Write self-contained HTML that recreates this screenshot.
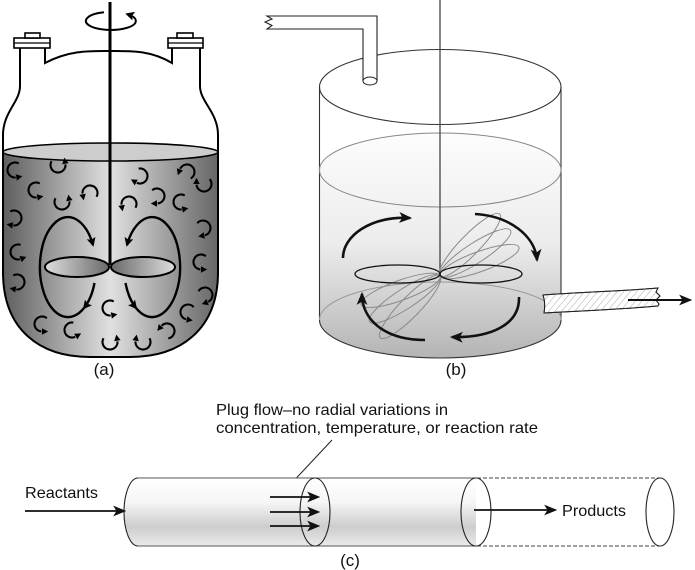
<!DOCTYPE html>
<html><head><meta charset="utf-8">
<style>
html,body{margin:0;padding:0;background:#fff;}
svg{display:block;}
text{font-family:"Liberation Sans",Arial,sans-serif;fill:#111;}
</style></head>
<body>
<svg width="695" height="570" viewBox="0 0 695 570" xmlns="http://www.w3.org/2000/svg">
<defs>
  <linearGradient id="liq" x1="3" y1="0" x2="218" y2="0" gradientUnits="userSpaceOnUse">
    <stop offset="0" stop-color="#5e5e5e"/>
    <stop offset="0.5" stop-color="#e0e0e0"/>
    <stop offset="1" stop-color="#666"/>
  </linearGradient>
  <linearGradient id="bl" x1="45" y1="0" x2="109" y2="0" gradientUnits="userSpaceOnUse">
    <stop offset="0" stop-color="#dedede"/>
    <stop offset="1" stop-color="#6a6a6a"/>
  </linearGradient>
  <linearGradient id="br" x1="111" y1="0" x2="175" y2="0" gradientUnits="userSpaceOnUse">
    <stop offset="0" stop-color="#6a6a6a"/>
    <stop offset="1" stop-color="#dedede"/>
  </linearGradient>
  <linearGradient id="cyl" x1="0" y1="130" x2="0" y2="358" gradientUnits="userSpaceOnUse">
    <stop offset="0" stop-color="#fdfdfd"/>
    <stop offset="0.5" stop-color="#ececec"/>
    <stop offset="1" stop-color="#b4b4b4"/>
  </linearGradient>
  <linearGradient id="tube" x1="0" y1="478" x2="0" y2="546" gradientUnits="userSpaceOnUse">
    <stop offset="0" stop-color="#fff"/>
    <stop offset="0.35" stop-color="#f6f6f6"/>
    <stop offset="0.72" stop-color="#cdcdcd"/>
    <stop offset="1" stop-color="#eaeaea"/>
  </linearGradient>
  <pattern id="hatch" width="5" height="5" patternUnits="userSpaceOnUse" patternTransform="rotate(40)">
    <line x1="0" y1="0" x2="0" y2="5" stroke="#aaa" stroke-width="1"/>
  </pattern>
  <marker id="ma" viewBox="0 0 10 10" refX="8" refY="5" markerWidth="9" markerHeight="9" markerUnits="userSpaceOnUse" orient="auto">
    <path d="M0,0 L10,5 L0,10 L2,5 z" fill="#000"/>
  </marker>
  <marker id="mb" viewBox="0 0 12 10" refX="10" refY="5" markerWidth="13" markerHeight="11" markerUnits="userSpaceOnUse" orient="auto">
    <path d="M0,0 L12,5 L0,10 L3,5 z" fill="#111"/>
  </marker>
  <g id="ca">
    <path d="M 3.75 -6.5 A 7.5 7.5 0 1 0 0.65 7.47" fill="none" stroke="#000" stroke-width="2.1"/>
    <polygon points="7.4,6.3 1.85,10.6 0.75,4.2" fill="#000"/>
  </g>
</defs>

<!-- ============ (a) ============ -->
<path d="M3 152 L3 272 C3 330 40 357 90 357 L130 357 C180 357 218 330 218 272 L218 152 Z" fill="url(#liq)" stroke="#000" stroke-width="2"/>
<ellipse cx="110.5" cy="152" rx="107.5" ry="9" fill="#cdcdcd" stroke="#000" stroke-width="1.6"/>
<path d="M3 275 L3 135 C3 112 20 102 20 86 L20 48" fill="none" stroke="#000" stroke-width="2"/>
<path d="M218 275 L218 135 C218 112 200 102 200 86 L200 48" fill="none" stroke="#000" stroke-width="2"/>
<path d="M45 48 L45 63 C70 50 90 51 110 51 C130 51 150 50 172 63 L172 48" fill="none" stroke="#000" stroke-width="2"/>
<rect x="14" y="38" width="36" height="10" fill="#fff" stroke="#000" stroke-width="1.6"/>
<line x1="14" y1="43" x2="50" y2="43" stroke="#000" stroke-width="1.2"/>
<rect x="25" y="33" width="15" height="5" fill="#fff" stroke="#000" stroke-width="1.6"/>
<rect x="168" y="38" width="35" height="10" fill="#fff" stroke="#000" stroke-width="1.6"/>
<line x1="168" y1="43" x2="203" y2="43" stroke="#000" stroke-width="1.2"/>
<rect x="177" y="33" width="16" height="5" fill="#fff" stroke="#000" stroke-width="1.6"/>
<path d="M104 12.3 A25 9 0 1 0 127 14.1" fill="none" stroke="#000" stroke-width="2" marker-end="url(#ma)"/>
<line x1="110" y1="2" x2="110" y2="265" stroke="#000" stroke-width="3"/>
<path d="M94.5 283 A28 50 0 0 1 84 308" fill="none" stroke="#000" stroke-width="2.4" marker-end="url(#ma)"/>
<path d="M84 308 A28 50 0 1 1 93 245" fill="none" stroke="#000" stroke-width="2.4" marker-end="url(#ma)"/>
<path d="M125.5 283 A28 50 0 0 0 136 308" fill="none" stroke="#000" stroke-width="2.4" marker-end="url(#ma)"/>
<path d="M136 308 A28 50 0 1 0 127 245" fill="none" stroke="#000" stroke-width="2.4" marker-end="url(#ma)"/>
<ellipse cx="77" cy="267" rx="32" ry="10" fill="url(#bl)" stroke="#000" stroke-width="2"/>
<ellipse cx="143" cy="267" rx="32" ry="10" fill="url(#br)" stroke="#000" stroke-width="2"/>
<!-- small curly arrows -->
<use href="#ca" transform="translate(15,170) rotate(0)"/>
<use href="#ca" transform="translate(58,165) rotate(-90)"/>
<use href="#ca" transform="translate(36,190) rotate(0)"/>
<use href="#ca" transform="translate(62,202) rotate(-90)"/>
<use href="#ca" transform="translate(90,193) rotate(90)"/>
<use href="#ca" transform="translate(140,176) scale(-1,1) rotate(-20)"/>
<use href="#ca" transform="translate(157,196) scale(-1,1) rotate(10)"/>
<use href="#ca" transform="translate(129,204) rotate(90)"/>
<use href="#ca" transform="translate(187,172) rotate(120)"/>
<use href="#ca" transform="translate(204,184) scale(-1,1) rotate(-80)"/>
<use href="#ca" transform="translate(181,202) rotate(0)"/>
<use href="#ca" transform="translate(14,218) scale(-1,1) rotate(0)"/>
<use href="#ca" transform="translate(203,228) scale(-1,1) rotate(20)"/>
<use href="#ca" transform="translate(18,252) rotate(-10)"/>
<use href="#ca" transform="translate(201,262) rotate(10)"/>
<use href="#ca" transform="translate(17,282) scale(-1,1) rotate(0)"/>
<use href="#ca" transform="translate(205,295) scale(-1,1) rotate(30)"/>
<use href="#ca" transform="translate(110,308) rotate(0)"/>
<use href="#ca" transform="translate(188,312) rotate(20)"/>
<use href="#ca" transform="translate(42,324) rotate(10)"/>
<use href="#ca" transform="translate(72,330) rotate(-20)"/>
<use href="#ca" transform="translate(167,331) rotate(140)"/>
<use href="#ca" transform="translate(110,342) rotate(-90)"/>
<use href="#ca" transform="translate(143,342) scale(-1,1) rotate(-90)"/>
<text x="104" y="375" font-size="17" text-anchor="middle">(a)</text>

<!-- ============ (b) ============ -->
<path d="M319.5 170 A120.75 37 0 0 1 561 170 L561 320 A120.75 38 0 0 1 319.5 320 Z" fill="url(#cyl)"/>
<line x1="319.5" y1="87" x2="319.5" y2="320" stroke="#333" stroke-width="1.1"/>
<line x1="561" y1="87" x2="561" y2="320" stroke="#333" stroke-width="1.1"/>
<path d="M319.5 320 A120.75 38 0 0 1 561 320" fill="none" stroke="#999" stroke-width="1"/>
<path d="M319.5 320 A120.75 38 0 0 0 561 320" fill="none" stroke="#333" stroke-width="1.1"/>
<ellipse cx="440.25" cy="170" rx="120.75" ry="37" fill="none" stroke="#888" stroke-width="1"/>
<ellipse cx="440.25" cy="87" rx="120.75" ry="37.5" fill="none" stroke="#333" stroke-width="1.1"/>
<path d="M267 16 L377 16 L377 81 L363 81 L363 29 L267 29 L272 25.5 L265 22 L272 19 Z" fill="#fff" stroke="#222" stroke-width="1.1"/>
<ellipse cx="370" cy="81" rx="7" ry="4" fill="#fff" stroke="#222" stroke-width="1"/>
<line x1="440" y1="0" x2="440" y2="276" stroke="#444" stroke-width="1.3"/>
<g fill="none" stroke="#8a8a8a" stroke-width="1">
  <g transform="rotate(-20 440 276)"><ellipse cx="482" cy="276" rx="42" ry="10"/><ellipse cx="398" cy="276" rx="42" ry="10"/></g>
  <g transform="rotate(-33 440 276)"><ellipse cx="482" cy="276" rx="42" ry="10"/><ellipse cx="398" cy="276" rx="42" ry="10"/></g>
  <g transform="rotate(-46 440 276)"><ellipse cx="483" cy="276" rx="43" ry="10"/><ellipse cx="397" cy="276" rx="43" ry="10"/></g>
</g>
<ellipse cx="397.5" cy="274" rx="42.5" ry="9" fill="none" stroke="#111" stroke-width="1.3"/>
<ellipse cx="481" cy="274" rx="41" ry="9" fill="none" stroke="#111" stroke-width="1.3"/>
<g fill="none" stroke="#111" stroke-width="2.6">
  <path d="M343 258 C343 236 370 216 410 218" marker-end="url(#mb)"/>
  <path d="M475 214 C510 216 535 236 537 260" marker-end="url(#mb)"/>
  <path d="M519 297 C520 325 490 338 452 337" marker-end="url(#mb)"/>
  <path d="M425 340 C385 340 362 320 362 294" marker-end="url(#mb)"/>
</g>
<path d="M543 295 C580 292 625 291 658 288 L656 292 L660 296 L656 300 L659 304 L658 306 C625 309 580 311 544 313 C545 307 545 301 543 295 Z" fill="#fff" stroke="#222" stroke-width="1"/>
<path d="M543 295 C580 292 625 291 658 288 L656 292 L660 296 L656 300 L659 304 L658 306 C625 309 580 311 544 313 C545 307 545 301 543 295 Z" fill="url(#hatch)" stroke="#222" stroke-width="1"/>
<line x1="628" y1="300" x2="690" y2="300" stroke="#111" stroke-width="2" marker-end="url(#mb)"/>
<text x="456" y="375" font-size="17" text-anchor="middle">(b)</text>

<!-- ============ (c) ============ -->
<text x="216" y="415" font-size="16" textLength="232" lengthAdjust="spacingAndGlyphs">Plug flow–no radial variations in</text>
<text x="216" y="433" font-size="16" textLength="322" lengthAdjust="spacingAndGlyphs">concentration, temperature, or reaction rate</text>
<line x1="332" y1="440" x2="288" y2="487" stroke="#222" stroke-width="1"/>
<path d="M138 478 L476 478 L476 546 L138 546 A14 34 0 0 1 138 478 Z" fill="url(#tube)"/>
<line x1="138" y1="478" x2="476" y2="478" stroke="#555" stroke-width="1.1"/>
<line x1="138" y1="546" x2="476" y2="546" stroke="#555" stroke-width="1.1"/>
<path d="M138 546 A14 34 0 0 1 138 478" fill="none" stroke="#222" stroke-width="1.1"/>
<ellipse cx="315" cy="512" rx="15" ry="34" fill="none" stroke="#222" stroke-width="1.1"/>
<ellipse cx="476" cy="512" rx="15" ry="34" fill="none" stroke="#222" stroke-width="1.1"/>
<line x1="477" y1="478" x2="660" y2="478" stroke="#444" stroke-width="1" stroke-dasharray="4,2"/>
<line x1="477" y1="546" x2="660" y2="546" stroke="#444" stroke-width="1" stroke-dasharray="4,2"/>
<ellipse cx="660" cy="512" rx="14" ry="34" fill="none" stroke="#222" stroke-width="1.1"/>
<g stroke="#111" stroke-width="1.8">
  <line x1="270" y1="497" x2="318" y2="497" marker-end="url(#mb)"/>
  <line x1="270" y1="512" x2="318" y2="512" marker-end="url(#mb)"/>
  <line x1="270" y1="526" x2="318" y2="526" marker-end="url(#mb)"/>
  <line x1="25" y1="511" x2="124" y2="511" marker-end="url(#mb)"/>
  <line x1="474" y1="510" x2="555" y2="510" marker-end="url(#mb)"/>
</g>
<text x="25" y="498" font-size="16" textLength="73" lengthAdjust="spacingAndGlyphs">Reactants</text>
<text x="562" y="516" font-size="16" textLength="64" lengthAdjust="spacingAndGlyphs">Products</text>
<text x="350" y="566" font-size="17" text-anchor="middle">(c)</text>
</svg>
</body></html>
